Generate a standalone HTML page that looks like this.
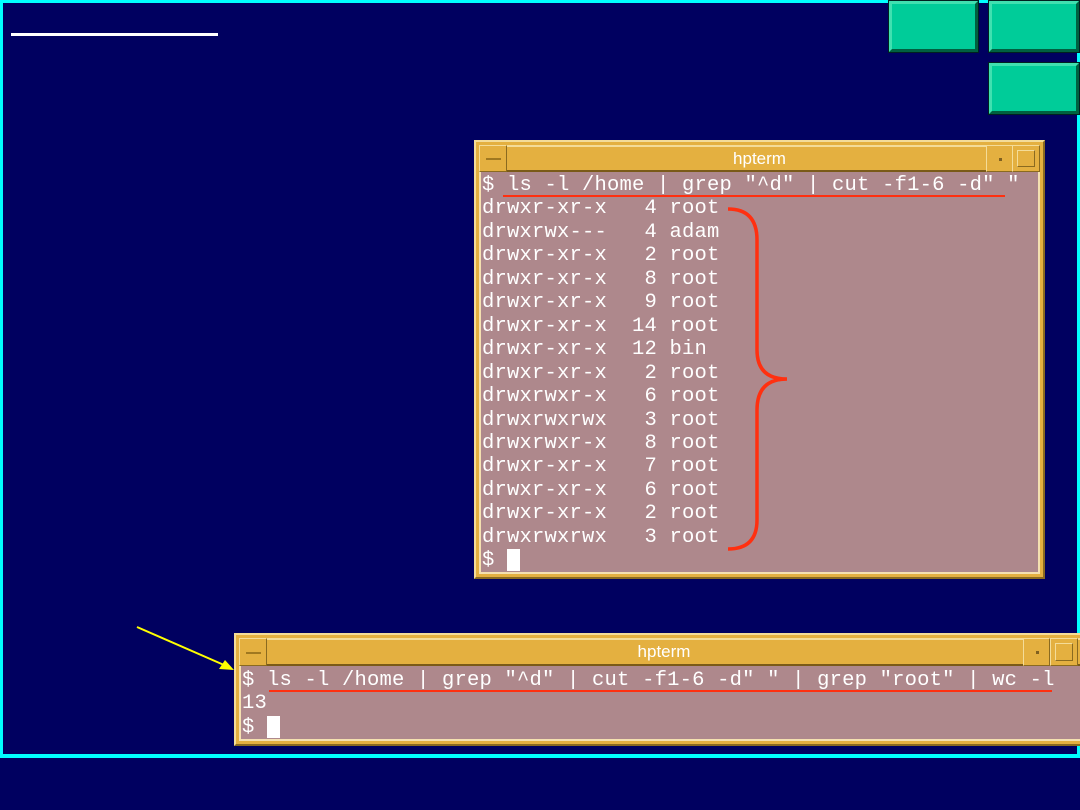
<!DOCTYPE html>
<html><head><style>
body{margin:0;width:1080px;height:810px;background:#000060;position:relative;overflow:hidden;font-family:"Liberation Mono",monospace}
div{position:absolute;box-sizing:border-box}
.frame{background:#e4b040;border:2px solid #f4dc98;border-right-color:#8a6a20;border-bottom-color:#8a6a20}
.title{background:#e4b040;border-top:2px solid #f4dc98;border-bottom:2px solid #7a5a18;color:#fff;font-family:"Liberation Sans",sans-serif;font-size:17px;text-align:center;line-height:23px}
.btn{border:1px solid #f4dc98;border-right-color:#8a6a20;border-bottom-color:#8a6a20;background:#e4b040}
.content{background:#ae888c;border:2px solid #f4e0b0;border-top:none;border-left:2px solid #f4e0b0}
pre{margin:0;font-family:"Liberation Mono",monospace;font-size:20.5px;letter-spacing:0.2px;color:#fff;position:absolute}
.green{background:#00cc99;border:3px solid #40e0b0;border-right-color:#006040;border-bottom-color:#006040;outline:1px solid #002020}
.cur{background:#fff;width:13px;height:22px}
</style></head><body>
<div style="left:0;top:0;width:1080px;height:3px;background:#00ffff"></div>
<div style="left:0;top:0;width:3px;height:757px;background:#00ffff"></div>
<div style="left:1077px;top:0;width:3px;height:757px;background:#00ffff"></div>
<div style="left:0;top:754px;width:1080px;height:4px;background:#00ffff"></div>
<div style="left:11px;top:33px;width:207px;height:3px;background:#fff"></div>

<div class="green" style="left:889px;top:1px;width:89px;height:51px"></div>
<div class="green" style="left:989px;top:1px;width:90px;height:51px"></div>
<div class="green" style="left:989px;top:63px;width:90px;height:51px"></div>

<!-- top window -->
<div class="frame" style="left:474px;top:140px;width:571px;height:439px"></div>
<div class="title" style="left:479px;top:145px;width:561px;height:27px">hpterm</div>
<div class="btn" style="left:479px;top:145px;width:28px;height:27px"><div style="left:6px;top:12px;width:15px;height:2px;background:#a07820"></div></div>
<div class="btn" style="left:986px;top:145px;width:27px;height:27px"><div style="left:12px;top:12px;width:3px;height:3px;background:#806020"></div></div>
<div class="btn" style="left:1012px;top:145px;width:28px;height:27px"><div class="btn" style="left:4px;top:4px;width:18px;height:17px"></div></div>
<div class="content" style="left:479px;top:172px;width:561px;height:402px"></div>
<pre style="left:482px;top:174px;line-height:23.45px">$ ls -l /home | grep "^d" | cut -f1-6 -d" "
drwxr-xr-x   4 root
drwxrwx---   4 adam
drwxr-xr-x   2 root
drwxr-xr-x   8 root
drwxr-xr-x   9 root
drwxr-xr-x  14 root
drwxr-xr-x  12 bin
drwxr-xr-x   2 root
drwxrwxr-x   6 root
drwxrwxrwx   3 root
drwxrwxr-x   8 root
drwxr-xr-x   7 root
drwxr-xr-x   6 root
drwxr-xr-x   2 root
drwxrwxrwx   3 root
$</pre>
<div class="cur" style="left:507px;top:549px"></div>
<div style="left:503px;top:195px;width:502px;height:2px;background:#ff3010"></div>

<!-- bottom window -->
<div class="frame" style="left:234px;top:633px;width:860px;height:113px"></div>
<div class="title" style="left:239px;top:638px;width:850px;height:28px">hpterm</div>
<div class="btn" style="left:239px;top:638px;width:28px;height:28px"><div style="left:6px;top:13px;width:15px;height:2px;background:#a07820"></div></div>
<div class="btn" style="left:1023px;top:638px;width:27px;height:28px"><div style="left:12px;top:12px;width:3px;height:3px;background:#806020"></div></div>
<div class="btn" style="left:1050px;top:638px;width:28px;height:28px"><div class="btn" style="left:4px;top:4px;width:18px;height:18px"></div></div>
<div class="content" style="left:239px;top:666px;width:850px;height:75px"></div>
<pre style="left:242px;top:669px;line-height:23.45px">$ ls -l /home | grep "^d" | cut -f1-6 -d" " | grep "root" | wc -l
13
$</pre>
<div class="cur" style="left:267px;top:716px"></div>
<div style="left:269px;top:690px;width:783px;height:2px;background:#ff3010"></div>

<svg width="1080" height="810" style="position:absolute;left:0;top:0">
<path d="M728 209 Q757 209 757 240 L757 350 Q757 379 787 379 Q757 379 757 410 L757 520 Q757 549 728 549" fill="none" stroke="#ff3010" stroke-width="3.5"/>
<line x1="137" y1="627" x2="224" y2="665" stroke="#ffff00" stroke-width="2"/>
<polygon points="234,670 219,669 225,660" fill="#ffff00"/>
</svg>
</body></html>
